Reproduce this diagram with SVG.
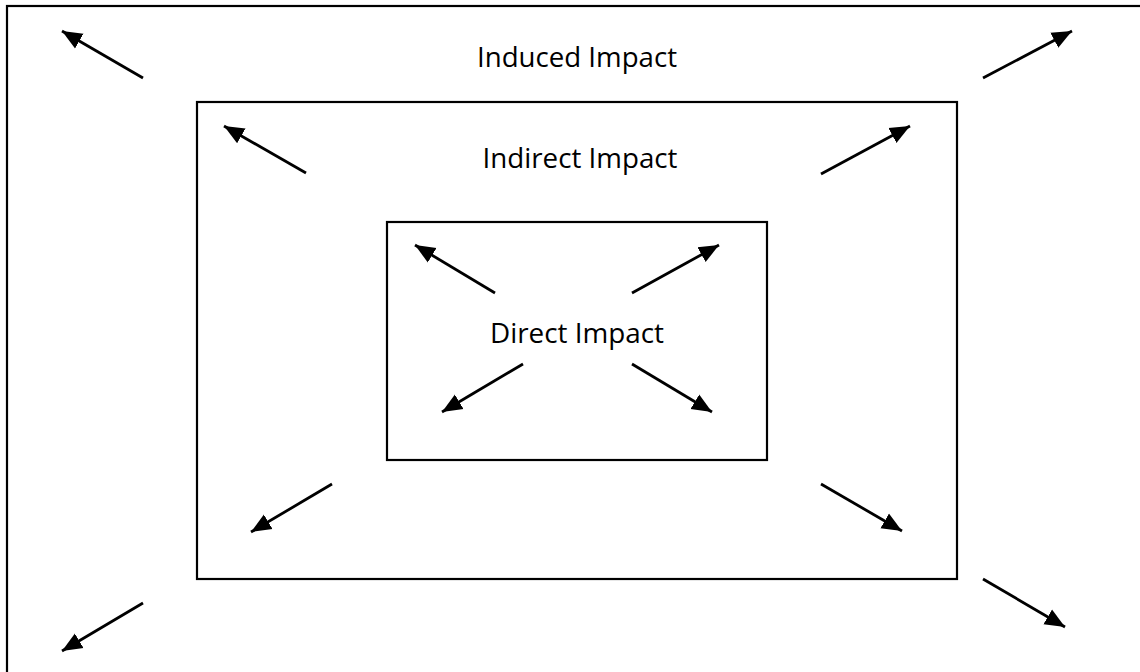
<svg xmlns="http://www.w3.org/2000/svg" width="1140" height="672" viewBox="0 0 1140 672">
<style>
.box{fill:none;stroke:#000;stroke-width:2.2}
.arr{stroke:#000;stroke-width:2.8;fill:none;marker-end:url(#ah)}
.lbl{font-family:"Open Sans","Liberation Sans",sans-serif;font-size:28px;fill:#000;text-anchor:middle}
</style>
<defs>
<marker id="ah" markerUnits="userSpaceOnUse" markerWidth="24" markerHeight="24" viewBox="0 0 24 24" refX="20" refY="12" orient="auto">
<path d="M0,3.5 L20,12 L0,20.5 Z" fill="#000"/>
</marker>
</defs>
<rect width="1140" height="672" fill="#fff"/>
<g id="outer">
<rect class="box" x="7" y="6" width="1140" height="680"/>
<text class="lbl" x="577" y="67" textLength="200" lengthAdjust="spacingAndGlyphs">Induced Impact</text>
</g>
<g id="middle">
<rect class="box" x="197" y="102" width="760" height="477"/>
<text class="lbl" x="580" y="168" textLength="195" lengthAdjust="spacingAndGlyphs">Indirect Impact</text>
</g>
<g id="inner">
<rect class="box" x="387" y="222" width="380" height="238"/>
<text class="lbl" x="577" y="343" textLength="174" lengthAdjust="spacingAndGlyphs">Direct Impact</text>
</g>
<g id="connectors">
<line class="arr" x1="143" y1="78" x2="62" y2="31"/>
<line class="arr" x1="983" y1="78" x2="1072" y2="31"/>
<line class="arr" x1="143" y1="603" x2="62" y2="651"/>
<line class="arr" x1="983" y1="579" x2="1065" y2="627"/>
<line class="arr" x1="306" y1="173" x2="224" y2="126"/>
<line class="arr" x1="821" y1="174" x2="910" y2="126"/>
<line class="arr" x1="332" y1="484" x2="251" y2="532"/>
<line class="arr" x1="821" y1="484" x2="902" y2="531"/>
<line class="arr" x1="495" y1="293" x2="415" y2="245"/>
<line class="arr" x1="632" y1="293" x2="719" y2="245"/>
<line class="arr" x1="523" y1="364" x2="442" y2="412"/>
<line class="arr" x1="632" y1="364" x2="712" y2="412"/>
</g>
</svg>
